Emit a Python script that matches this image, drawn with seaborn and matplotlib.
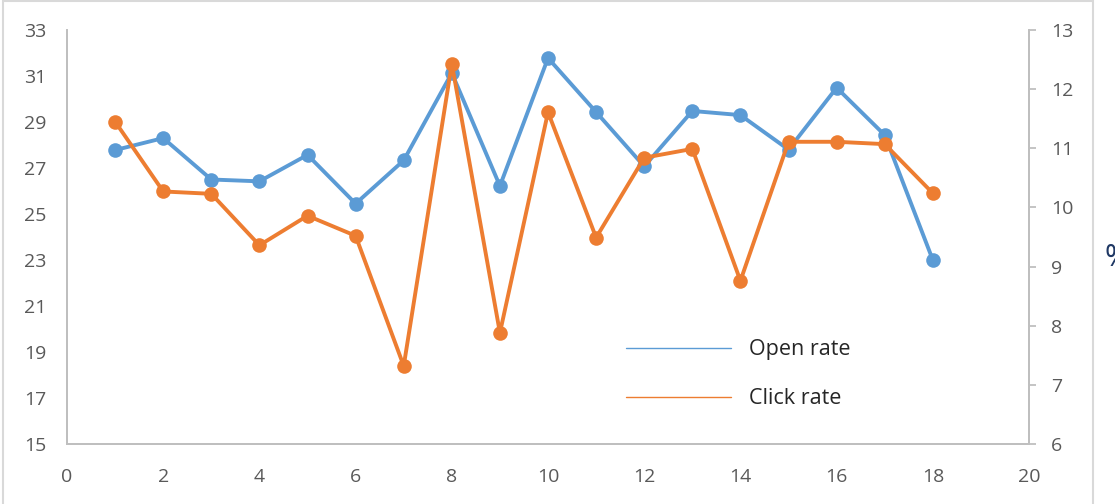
import matplotlib
matplotlib.use("Agg")
import matplotlib.pyplot as plt
from matplotlib.lines import Line2D
from matplotlib.patches import Rectangle
import pandas as pd
import seaborn as sns

sns.set_theme(style="white")
plt.rcParams['font.family'] = ['Open Sans', 'DejaVu Sans']

## data
weeks = list(range(1, 19))
open_rate = [27.78, 28.30, 26.50, 26.42, 27.57, 25.45, 27.33, 31.13, 26.22,
             31.78, 29.43, 27.07, 29.48, 29.30, 27.80, 30.49, 28.43, 23.00]
click_rate = [11.45, 10.27, 10.23, 9.36, 9.86, 9.52, 7.32, 12.43, 7.88,
              11.61, 9.49, 10.84, 10.99, 8.76, 11.11, 11.11, 11.07, 10.24]
left_ticks = list(range(15, 34, 2))
right_ticks = list(range(6, 14))
x_ticks = list(range(0, 21, 2))

df = pd.DataFrame({"week": weeks, "open": open_rate, "click": click_rate})

blue = "#5B9BD5"
orange = "#ED7D31"
grey_txt = "#595959"
grey_ax = "#BFBFBF"

fig = plt.figure(figsize=(11.15, 5.04), dpi=100)
ax = fig.add_axes([0.0601, 0.119, 0.8628, 0.8215])
ax2 = ax.twinx()

sns.lineplot(data=df, x="week", y="open", ax=ax, color=blue, marker="o",
             markersize=10.5, markeredgewidth=0, linewidth=2.8)
sns.lineplot(data=df, x="week", y="click", ax=ax2, color=orange, marker="o",
             markersize=10.5, markeredgewidth=0, linewidth=2.8)

ax.set_xlim(0, 20)
ax.set_ylim(15, 33)
ax2.set_ylim(6, 13)
ax.set_xticks(x_ticks)
ax.set_yticks(left_ticks)
ax2.set_yticks(right_ticks)
for a in (ax, ax2):
    a.set_xlabel("")
    a.set_ylabel("")
    a.spines["top"].set_visible(False)
    for s in ("left", "right", "bottom"):
        a.spines[s].set_color(grey_ax)
        a.spines[s].set_linewidth(1.3)
ax.tick_params(axis="both", labelsize=14, labelcolor=grey_txt, length=0)
ax.tick_params(axis="x", pad=17)
ax.tick_params(axis="y", pad=15)
ax2.tick_params(axis="y", labelsize=14, labelcolor=grey_txt, direction="out",
                length=5, width=1.3, color=grey_ax, pad=11)

handles = [Line2D([], [], color=blue, lw=1),
           Line2D([], [], color=orange, lw=1)]
ax.legend(handles, ["Open rate", "Click rate"], loc="center left",
          bbox_to_anchor=(0.581, 0.169), frameon=False, fontsize=15.5,
          handlelength=4.9, handletextpad=0.8, labelspacing=1.3,
          borderpad=0, borderaxespad=0)

# chart border and the cut-off axis title at the right edge
fig.patches.append(Rectangle((3 / 1115, -0.05), 1090 / 1115, 1.05 - 1 / 504,
                             transform=fig.transFigure, fill=False,
                             edgecolor="#D9D9D9", linewidth=1.5))
fig.text(1105 / 1115, 1 - 258 / 504, "%", fontsize=22, color="#1F3864",
         ha="left", va="center")

plt.savefig("out.png", dpi=100)
